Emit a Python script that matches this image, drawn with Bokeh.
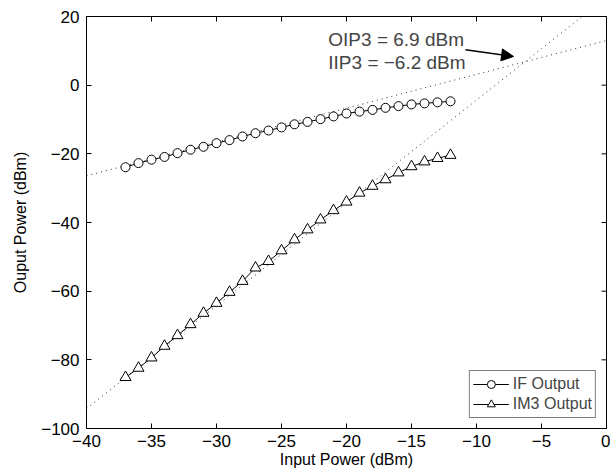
import math
from bokeh.plotting import figure
from bokeh.models import (Range1d, Arrow, NormalHead, Label, Legend,
                          LegendItem, FixedTicker, ColumnDataSource)
from bokeh.embed import file_html
from bokeh.resources import INLINE

# ---- data ----
pin = [-37, -36, -35, -34, -33, -32, -31, -30, -29, -28, -27, -26, -25,
       -24, -23, -22, -21, -20, -19, -18, -17, -16, -15, -14, -13, -12]
if_out = [-23.9, -22.7, -21.7, -20.9, -19.8, -18.8, -17.95, -16.9, -16.0, -14.95,
          -14.0, -13.2, -12.3, -11.4, -10.7, -9.9, -9.1, -8.25, -7.7, -7.2,
          -6.6, -6.1, -5.6, -5.3, -5.0, -4.7]
im3_out = [-85.1, -82.4, -79.4, -76.0, -72.9, -69.7, -66.4, -63.5, -60.3, -57.1,
           -53.2, -51.3, -48.2, -45.0, -42.1, -39.2, -36.5, -34.0, -31.4, -29.4,
           -27.5, -25.5, -23.7, -22.3, -21.3, -20.4]
if_fit_x = [-40, 0]
if_fit_y = [-26.4, 13.0]
im3_fit_x = [-40, 0]
im3_fit_y = [-94.2, 25.6]
oip3 = 6.9
iip3 = -6.2
x_ticks = [-40, -35, -30, -25, -20, -15, -10, -5, 0]
y_ticks = [-100, -80, -60, -40, -20, 0, 20]
x_lim = (-40, 0)
y_lim = (-100, 20)

FONT = "Liberation Sans"
TICK_FS = "17px"
TITLE_FS = "16px"
LEG_FS = "16px"
ANN_FS = "19px"
MINUS = "\u2212"


def fmt(v):
    return (MINUS + str(abs(v))) if v < 0 else str(v)


p = figure(frame_width=520, frame_height=412,
           x_range=Range1d(*x_lim), y_range=Range1d(*y_lim),
           output_backend="svg", toolbar_location=None,
           min_border_left=86, min_border_top=16, min_border_right=4,
           min_border_bottom=46, background_fill_color="white",
           border_fill_color="white")
p.grid.visible = False
p.outline_line_color = "black"
p.outline_line_width = 1

for ax in (p.xaxis[0], p.yaxis[0]):
    ax.major_tick_in = 5
    ax.major_tick_out = 0
    ax.minor_tick_line_color = None
    ax.axis_line_color = "black"
    ax.major_label_text_font = FONT
    ax.major_label_text_font_size = TICK_FS
    ax.major_label_text_color = "black"
    ax.axis_label_text_font = FONT
    ax.axis_label_text_font_size = TITLE_FS
    ax.axis_label_text_font_style = "normal"
    ax.axis_label_text_color = "black"

p.xaxis[0].ticker = FixedTicker(ticks=x_ticks)
p.yaxis[0].ticker = FixedTicker(ticks=y_ticks)
p.xaxis[0].major_label_overrides = {t: fmt(t) for t in x_ticks}
p.yaxis[0].major_label_overrides = {t: fmt(t) for t in y_ticks}
p.xaxis[0].axis_label = "Input Power (dBm)"
p.yaxis[0].axis_label = "Ouput Power (dBm)"
p.xaxis[0].major_label_standoff = 6
p.yaxis[0].major_label_standoff = 7
p.xaxis[0].axis_label_standoff = 1
p.yaxis[0].axis_label_standoff = 9

# inward tick marks on the top and right edges of the box
p.scatter(x=x_ticks, y=[y_lim[1]] * len(x_ticks), marker="dash", angle=math.pi / 2,
          size=10, line_color="black", line_width=1)
p.scatter(x=[x_lim[1]] * len(y_ticks), y=y_ticks, marker="dash", angle=0,
          size=10, line_color="black", line_width=1)

# extrapolation lines
p.line(if_fit_x, if_fit_y, line_color="#333333", line_width=1, line_dash="1 4")
p.line(im3_fit_x, im3_fit_y, line_color="#333333", line_width=1, line_dash="1 4")

src = ColumnDataSource(dict(x=pin, ifo=if_out, im3=im3_out))
l1 = p.line("x", "ifo", source=src, line_color="black", line_width=1)
s1 = p.scatter("x", "ifo", source=src, marker="circle", size=9,
               fill_color="white", line_color="black", line_width=1)
l2 = p.line("x", "im3", source=src, line_color="black", line_width=1)
s2 = p.scatter("x", "im3", source=src, marker="triangle", size=11,
               fill_color="white", line_color="black", line_width=1)

legend = Legend(items=[LegendItem(label="IF Output", renderers=[l1, s1]),
                       LegendItem(label="IM3 Output", renderers=[l2, s2])],
                location="bottom_right", margin=10, padding=3, spacing=0,
                glyph_width=36, glyph_height=20, label_height=20,
                label_standoff=4, label_text_font=FONT, label_text_font_size=LEG_FS,
                border_line_color="black", border_line_width=1,
                background_fill_alpha=1)
p.add_layout(legend, "center")

# annotation
p.add_layout(Label(x=-21.4, y=13.3, text="OIP3 = %s dBm" % fmt(oip3),
                   text_font=FONT, text_font_size=ANN_FS, text_baseline="middle"))
p.add_layout(Label(x=-21.4, y=6.6, text="IIP3 = %s dBm" % fmt(iip3),
                   text_font=FONT, text_font_size=ANN_FS, text_baseline="middle"))
p.add_layout(Arrow(end=NormalHead(size=12, fill_color="black", line_color="black"),
                   x_start=iip3 - 4.65, y_start=oip3 + 3.4,
                   x_end=iip3 - 0.95, y_end=oip3 + 1.45,
                   line_color="black", line_width=1.5))

open("out.html", "w").write(file_html(p, INLINE))
